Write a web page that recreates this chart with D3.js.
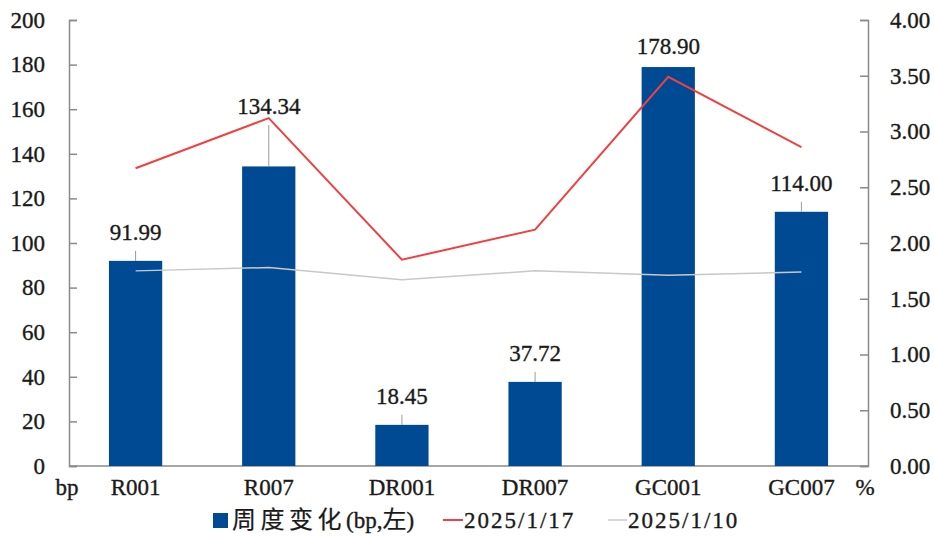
<!DOCTYPE html>
<html>
<head>
<meta charset="utf-8">
<script src="https://cdn.jsdelivr.net/npm/d3@7"></script>
<style>
  body { margin: 0; background: #fff; }
  svg text { font-family: "Liberation Serif", "DejaVu Serif", serif; fill: #1a1a1a; stroke: #1a1a1a; stroke-width: 0.35px; }
  svg .cjk { font-family: "Noto Sans CJK SC", sans-serif; stroke-width: 0.2px; }
</style>
</head>
<body>
<div id="chart"></div>
<script>
// 数据
const categories = ["R001", "R007", "DR001", "DR007", "GC001", "GC007"]
const weeklyChange = [91.99, 134.34, 18.45, 37.72, 178.90, 114.00]   // bp, 左轴
const rate0117 = [2.67, 3.12, 1.85, 2.12, 3.49, 2.86]                // %, 右轴
const rate0110 = [1.75, 1.78, 1.67, 1.75, 1.71, 1.74]                // %, 右轴
const leftTicks = [0, 20, 40, 60, 80, 100, 120, 140, 160, 180, 200]
const rightTicks = [0, 0.5, 1, 1.5, 2, 2.5, 3, 3.5, 4]
const legendNames = ["周度变化", "2025/1/17", "2025/1/10"]

let width = 934, height = 536
let margin = { top: 20, right: 66, bottom: 70, left: 69 }

let svg = d3.select("#chart")
    .append("svg")
    .attr("width", width)
    .attr("height", height)

let x = d3.scaleBand()
    .domain(categories)
    .range([margin.left, width - margin.right])
    .paddingInner(0.6)
    .paddingOuter(0.3)

let yL = d3.scaleLinear().domain([0, 200]).range([height - margin.bottom, margin.top])
let yR = d3.scaleLinear().domain([0, 4]).range([height - margin.bottom, margin.top])

let axisColor = "#8a8a8a"
let fs = 23

// 左轴
let leftAxis = svg.append("g")
    .attr("transform", "translate(" + margin.left + ",0)")
    .call(d3.axisRight(yL).tickValues(leftTicks).tickSize(8).tickFormat(d3.format("d")))
leftAxis.select(".domain").attr("stroke", axisColor).attr("stroke-width", 1.5)
leftAxis.selectAll(".tick line").attr("stroke", axisColor).attr("stroke-width", 1.5)
leftAxis.selectAll(".tick text")
    .attr("x", -24)
    .attr("text-anchor", "end")
    .style("font-size", fs + "px")

// 右轴
let rightAxis = svg.append("g")
    .attr("transform", "translate(" + (width - margin.right) + ",0)")
    .call(d3.axisLeft(yR).tickValues(rightTicks).tickSize(8).tickFormat(d3.format(".2f")))
rightAxis.select(".domain").attr("stroke", axisColor).attr("stroke-width", 1.5)
rightAxis.selectAll(".tick line").attr("stroke", axisColor).attr("stroke-width", 1.5)
rightAxis.selectAll(".tick text")
    .attr("x", 22)
    .attr("text-anchor", "start")
    .style("font-size", fs + "px")

// 底部横线
svg.append("line")
    .attr("x1", margin.left)
    .attr("x2", width - margin.right)
    .attr("y1", yL(0))
    .attr("y2", yL(0))
    .attr("stroke", axisColor)
    .attr("stroke-width", 1.5)

// 柱子
let barColor = "#004a94"
svg.selectAll(".bar")
    .data(weeklyChange)
    .enter()
    .append("rect")
    .attr("class", "bar")
    .attr("x", (d, i) => x(categories[i]))
    .attr("y", d => yL(d))
    .attr("width", x.bandwidth())
    .attr("height", d => yL(0) - yL(d))
    .attr("fill", barColor)

// 折线
let cx = i => x(categories[i]) + x.bandwidth() / 2
let line = d3.line().x((d, i) => cx(i)).y(d => yR(d))

svg.append("path")
    .datum(rate0110)
    .attr("d", line)
    .attr("fill", "none")
    .attr("stroke", "#c8c8c8")
    .attr("stroke-width", 1.5)

svg.append("path")
    .datum(rate0117)
    .attr("d", line)
    .attr("fill", "none")
    .attr("stroke", "#f04040")
    .attr("stroke-width", 2)

// 数据标签：一般放在柱顶上方，若红线点紧贴柱顶上方则挪到红线之上
let labelY = weeklyChange.map(function (d, i) {
    let top = yL(d)
    let ry = yR(rate0117[i])
    if (ry < top && top - ry < 60) return ry - 12
    if (ry > top) return top - 21       // 红线在柱内，标签贴近柱顶
    return top - 29
})

svg.selectAll(".leader")
    .data(weeklyChange)
    .enter()
    .append("line")
    .attr("class", "leader")
    .attr("x1", (d, i) => cx(i))
    .attr("x2", (d, i) => cx(i))
    .attr("y1", (d, i) => labelY[i] + 19)
    .attr("y2", d => yL(d))
    .attr("stroke", "#9a9a9a")
    .attr("stroke-width", 1)
    .style("display", (d, i) => (yL(d) - labelY[i] - 19 > 4 ? null : "none"))

svg.selectAll(".valueLabel")
    .data(weeklyChange)
    .enter()
    .append("text")
    .attr("class", "valueLabel")
    .attr("x", (d, i) => cx(i))
    .attr("y", (d, i) => labelY[i])
    .attr("dy", "0.35em")
    .attr("text-anchor", "middle")
    .style("font-size", fs + "px")
    .text(d => d.toFixed(2))

// 类别标签
let catY = 487
svg.selectAll(".catLabel")
    .data(categories)
    .enter()
    .append("text")
    .attr("class", "catLabel")
    .attr("x", d => x(d) + x.bandwidth() / 2)
    .attr("y", catY)
    .attr("dy", "0.35em")
    .attr("text-anchor", "middle")
    .style("font-size", fs + "px")
    .text(d => d)

// 单位
svg.append("text").attr("x", margin.left - 2).attr("y", catY).attr("dy", "0.35em")
    .attr("text-anchor", "middle").style("font-size", fs + "px").text("bp")
svg.append("text").attr("x", width - margin.right - 3).attr("y", catY).attr("dy", "0.35em")
    .attr("text-anchor", "middle").style("font-size", fs + "px").text("%")

// 图例
let legendY = 520
let lg = svg.append("g")
lg.append("rect")
    .attr("x", 213).attr("y", legendY - 7)
    .attr("width", 15).attr("height", 15)
    .attr("fill", barColor)
let t0 = lg.append("text")
    .attr("x", 232).attr("y", legendY).attr("dy", "0.35em")
    .style("font-size", fs + "px")
t0.append("tspan").attr("class", "cjk").style("font-size", "24px").style("letter-spacing", "4.5px").text(legendNames[0])
t0.append("tspan").text("(bp,")
t0.append("tspan").attr("class", "cjk").style("font-size", "24px").text("左")
t0.append("tspan").text(")")

lg.append("line")
    .attr("x1", 443).attr("x2", 463)
    .attr("y1", legendY).attr("y2", legendY)
    .attr("stroke", "#f04040").attr("stroke-width", 2)
lg.append("text")
    .attr("x", 464).attr("y", legendY).attr("dy", "0.35em")
    .style("font-size", fs + "px")
    .style("letter-spacing", "2px")
    .text(legendNames[1])

lg.append("line")
    .attr("x1", 608).attr("x2", 627)
    .attr("y1", legendY).attr("y2", legendY)
    .attr("stroke", "#c8c8c8").attr("stroke-width", 1.5)
lg.append("text")
    .attr("x", 628).attr("y", legendY).attr("dy", "0.35em")
    .style("font-size", fs + "px")
    .style("letter-spacing", "2px")
    .text(legendNames[2])
</script>
</body>
</html>
